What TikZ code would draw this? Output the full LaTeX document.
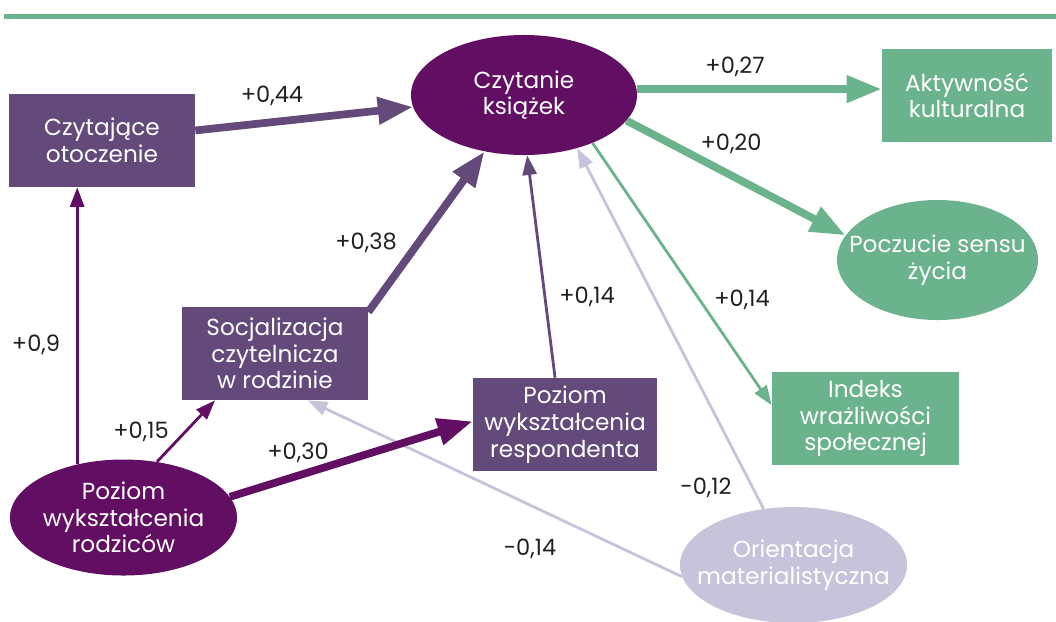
\documentclass[tikz,border=0pt]{standalone}
\usepackage{fontspec}
\setmainfont{Poppins}
\usetikzlibrary{arrows.meta,shapes.geometric}
\definecolor{plum}{HTML}{620E62}
\definecolor{mauve}{HTML}{634A7A}
\definecolor{sage}{HTML}{6AB38C}
\definecolor{lilac}{HTML}{C6C3DB}
\definecolor{ink}{HTML}{231F20}
\begin{document}
\begin{tikzpicture}[x=0.025cm,y=-0.025cm,
  box/.style={rectangle,fill=mauve,text=white,align=center,inner sep=0pt,minimum width=4.65cm,minimum height=2.325cm,font=\fontsize{16.5}{19}\selectfont},
  oval/.style={ellipse,fill=plum,text=white,align=center,inner xsep=-14pt,inner ysep=0pt,font=\fontsize{16.5}{19}\selectfont},
  lbl/.style={text=ink,font=\fontsize{16}{18}\selectfont},
  bigarrow/.style={line width=5.5pt,-{Triangle[length=25pt,width=18.5pt]}},
  smallarrow/.style={line width=2pt,-{Triangle[length=14pt,width=10pt]}}]
\useasboundingbox (0,0) rectangle (1056,621);
\draw[sage,line width=3.5pt] (4,16.5)--(1056,16.5);
\node[box] (otoczenie) at (102,140.5) {Czytające\\otoczenie};
\node[oval,minimum width=5.65cm,minimum height=3cm] (czytanie) at (524,95) {Czytanie\\książek};
\node[box,fill=sage,minimum width=4.25cm] (aktywnosc) at (967,95.5) {Aktywność\\kulturalna};
\node[oval,fill=sage,minimum width=5.025cm,minimum height=3cm] (poczucie) at (937.5,260) {Poczucie sensu\\życia};
\node[box,fill=sage,minimum width=4.675cm] (indeks) at (865.5,418.5) {Indeks\\wrażliwości\\społecznej};
\node[box] (socjal) at (275,353.5) {Socjalizacja\\czytelnicza\\w rodzinie};
\node[box,minimum width=4.6cm] (respondent) at (565,424.5) {Poziom\\wykształcenia\\respondenta};
\node[oval,minimum width=5.675cm,minimum height=2.9cm] (rodzice) at (123.5,517.5) {Poziom\\wykształcenia\\rodziców};
\node[oval,fill=lilac,minimum width=5.675cm,minimum height=2.9cm] (orient) at (793.5,565) {Orientacja\\materialistyczna};
\draw[bigarrow,mauve] (otoczenie)--(czytanie);
\draw[bigarrow,sage] (czytanie.3)--(czytanie.3 -| aktywnosc.west);
\draw[bigarrow,sage] (czytanie.-14)--(poczucie.165);
\draw[smallarrow,sage] (czytanie.-35)--(indeks.172);
\draw[bigarrow,mauve] (socjal.24)--(czytanie.235);
\draw[smallarrow,mauve] (respondent.102)--(czytanie.-87);
\draw[smallarrow,lilac] (orient.118)--(czytanie.-45);
\draw[smallarrow,lilac] (orient.186)--(socjal.-55);
\draw[smallarrow,plum] (rodzice.131)--(rodzice.131 |- otoczenie.south);
\draw[smallarrow,plum] (rodzice.59)--(socjal.218);
\draw[bigarrow,plum] (rodzice.11)--(respondent.178);
\node[lbl] (w044) at (272,96) {+0,44};
\node[lbl] (w027) at (735,67) {+0,27};
\node[lbl] (w020) at (731,144) {+0,20};
\node[lbl] (w038) at (366,243) {+0,38};
\node[lbl] (w014a) at (587,297) {+0,14};
\node[lbl] (w014b) at (742,300) {+0,14};
\node[lbl] (w012) at (706,488) {-0,12};
\node[lbl] (w014c) at (530,549) {-0,14};
\node[lbl] (w09) at (36,345) {+0,9};
\node[lbl] (w015) at (141,432) {+0,15};
\node[lbl] (w030) at (298,453) {+0,30};
\end{tikzpicture}
\end{document}
